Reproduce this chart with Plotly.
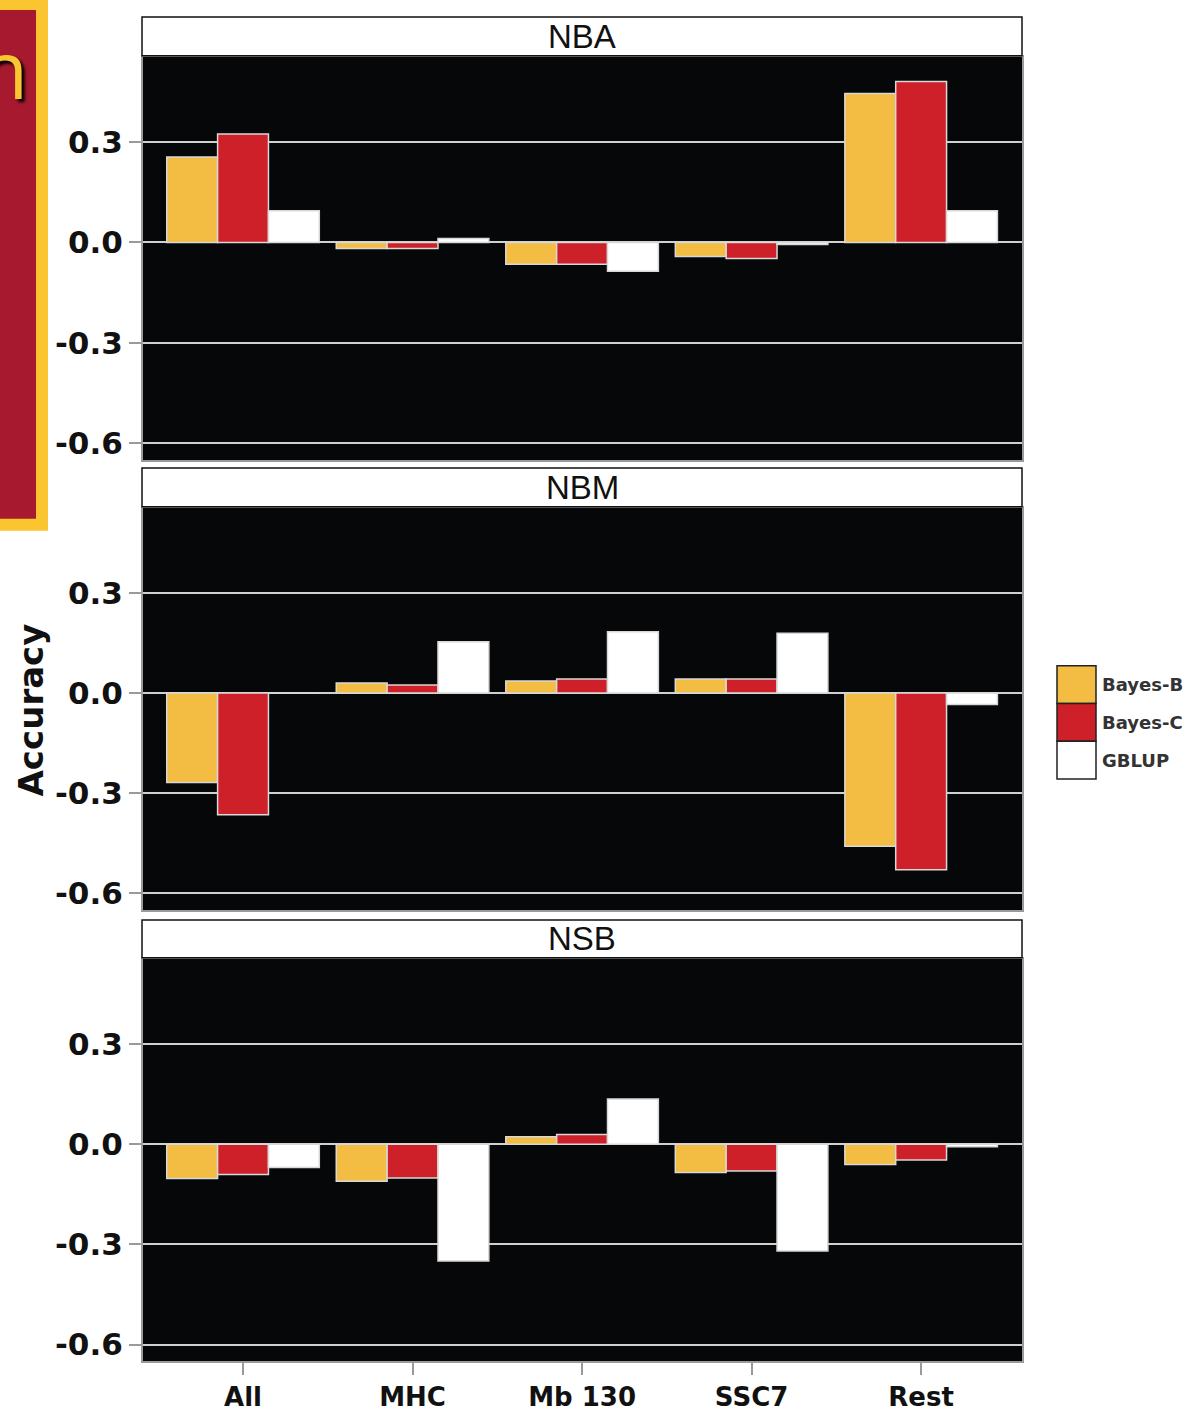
import plotly.graph_objects as go
from plotly.subplots import make_subplots

# ---- data -------------------------------------------------------------
categories = ["All", "MHC", "Mb 130", "SSC7", "Rest"]
panels = ["NBA", "NBM", "NSB"]
series_names = ["Bayes-B", "Bayes-C", "GBLUP"]
series_colors = ["#F2BD42", "#CD2028", "#FFFFFF"]

nba_bayes_b = [0.255, -0.018, -0.065, -0.042, 0.445]
nba_bayes_c = [0.324, -0.018, -0.065, -0.048, 0.481]
nba_gblup = [0.095, 0.012, -0.086, -0.006, 0.095]

nbm_bayes_b = [-0.268, 0.030, 0.036, 0.042, -0.459]
nbm_bayes_c = [-0.364, 0.024, 0.042, 0.042, -0.529]
nbm_gblup = [0.000, 0.154, 0.184, 0.179, -0.034]

nsb_bayes_b = [-0.103, -0.111, 0.022, -0.085, -0.061]
nsb_bayes_c = [-0.091, -0.101, 0.029, -0.080, -0.047]
nsb_gblup = [-0.070, -0.350, 0.135, -0.320, -0.008]

y_tickvals = [0.3, 0.0, -0.3, -0.6]
y_ticktext = ["0.3", "0.0", "-0.3", "-0.6"]

panel_values = [
    [nba_bayes_b, nba_bayes_c, nba_gblup],
    [nbm_bayes_b, nbm_bayes_c, nbm_gblup],
    [nsb_bayes_b, nsb_bayes_c, nsb_gblup],
]

# ---- layout geometry (pixel positions on the page) ---------------------
W, H = 1186, 1412
px = lambda x: x / W
py = lambda y: 1 - y / H

plot_left, plot_right = 143, 1022
panel_rows = [(57, 463), (511, 916), (965, 1370)]
strip_rows = [(17, 56), (471, 510), (926, 964)]

fig = make_subplots(rows=3, cols=1, shared_xaxes=True)

for r, vals in enumerate(panel_values, start=1):
    for name, color, v in zip(series_names, series_colors, vals):
        fig.add_trace(
            go.Bar(
                x=categories, y=v, name=name,
                marker=dict(color=color, line=dict(color="#D8D8D8", width=1.5)),
                showlegend=False,
            ),
            row=r, col=1,
        )

fig.update_layout(
    width=W, height=H,
    margin=dict(l=0, r=0, t=0, b=0),
    paper_bgcolor="white",
    plot_bgcolor="#060709",
    barmode="group",
    bargap=0.1,
    bargroupgap=0.0,
)

axis_gray = "#9A9A9A"
for i, (top, bottom) in enumerate(panel_rows, start=1):
    fig.update_yaxes(
        domain=[py(bottom), py(top)],
        range=[-0.65, 0.555],
        tickvals=y_tickvals, ticktext=y_ticktext,
        tickfont=dict(family="DejaVu Sans", size=31, weight="bold", color="#111111"),
        ticks="outside", ticklen=12, tickwidth=2, tickcolor=axis_gray,
        showgrid=True, gridcolor="#D0D0D0", gridwidth=2,
        zeroline=True, zerolinecolor="#D0D0D0", zerolinewidth=2,
        showline=True, linecolor=axis_gray, linewidth=2, mirror=True,
        row=i, col=1,
    )
    fig.update_xaxes(
        domain=[px(plot_left), px(plot_right)],
        range=[-0.59, 4.595],
        showgrid=False, zeroline=False,
        showline=True, linecolor=axis_gray, linewidth=2, mirror=True,
        ticks="outside" if i == 3 else "",
        ticklen=12, tickwidth=2, tickcolor=axis_gray,
        showticklabels=(i == 3),
        tickfont=dict(family="DejaVu Sans", size=26, weight="bold", color="#111111"),
        row=i, col=1,
    )

shapes = []
annotations = []

# facet strips
for label, (top, bottom) in zip(panels, strip_rows):
    shapes.append(dict(
        type="rect", xref="paper", yref="paper",
        x0=px(142), x1=px(1022), y0=py(bottom), y1=py(top),
        fillcolor="white", line=dict(color="#111111", width=1.5),
    ))
    annotations.append(dict(
        xref="paper", yref="paper", x=px(582), y=py((top + bottom) / 2),
        text=label, showarrow=False, xanchor="center", yanchor="middle",
        font=dict(family="Liberation Sans", size=33, color="#111111"),
    ))

# y axis title
annotations.append(dict(
    xref="paper", yref="paper", x=px(31), y=py(715),
    text="Accuracy", textangle=-90, showarrow=False,
    xanchor="center", yanchor="middle",
    font=dict(family="DejaVu Sans", size=34, weight="bold", color="#111111"),
))

# legend keys
key_x0, key_x1 = 1057, 1096
key_top, key_h = 670, 38
for k, (name, color) in enumerate(zip(series_names, series_colors)):
    y0 = key_top + k * key_h
    shapes.append(dict(
        type="rect", xref="paper", yref="paper",
        x0=px(key_x0), x1=px(key_x1), y0=py(y0 + key_h), y1=py(y0),
        fillcolor=color, line=dict(color="#222222", width=1.5),
    ))
    annotations.append(dict(
        xref="paper", yref="paper", x=px(1100), y=py(y0 + key_h / 2),
        text=name, showarrow=False, xanchor="left", yanchor="middle",
        font=dict(family="DejaVu Sans", size=18, weight="bold", color="#333333"),
    ))

# title banner edge on the left
shapes.append(dict(
    type="rect", xref="paper", yref="paper",
    x0=px(-30), x1=px(42), y0=py(528), y1=py(4),
    fillcolor="#A6192E", line=dict(color="#FBC531", width=12),
    layer="above",
))
annotations.append(dict(
    xref="paper", yref="paper", x=px(30), y=py(68),
    text="n", showarrow=False, xanchor="right", yanchor="middle",
    font=dict(family="Open Sans", size=80, color="#F9C631",
              shadow="3px 3px 3px #000000"),
))

fig.update_layout(shapes=shapes, annotations=annotations)

fig.write_html("out.html")
